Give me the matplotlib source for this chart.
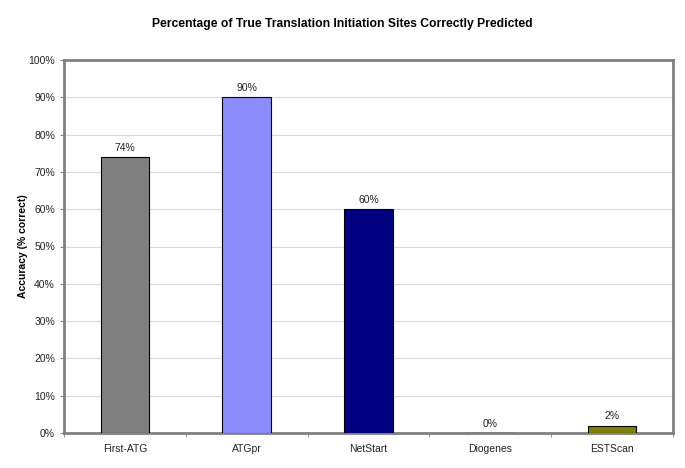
import matplotlib
matplotlib.use('Agg')
import matplotlib.pyplot as plt
from matplotlib.ticker import FuncFormatter, MultipleLocator, FixedLocator

plt.rcParams['font.family'] = ['Liberation Sans', 'DejaVu Sans']

methods = ['First-ATG', 'ATGpr', 'NetStart', 'Diogenes', 'ESTScan']
accuracy = [74, 90, 60, 0, 2]
colors = ['#808080', '#8c8cff', '#000080', '#ffffff', '#808000']

fig = plt.figure(figsize=(6.85, 4.68), dpi=100)
ax = fig.add_axes([64/685, 35/468, 609/685, 373/468])

x = range(len(methods))
ax.bar(x, accuracy, width=0.4, color=colors, edgecolor='black', linewidth=0.8, zorder=3)
for i, v in enumerate(accuracy):
    ax.text(i, v + 1.2, f'{v}%', ha='center', va='bottom', fontsize=7.5, color='#222222')

ax.set_xlim(-0.5, len(methods) - 0.5)
ax.set_ylim(0, 100)
ax.yaxis.set_major_locator(MultipleLocator(10))
ax.yaxis.set_major_formatter(FuncFormatter(lambda v, p: f'{v:.0f}%'))
ax.set_xticks(list(x))
ax.set_xticklabels(methods, fontsize=7.5, color='#222222')
ax.xaxis.set_minor_locator(FixedLocator([i + 0.5 for i in range(-1, len(methods))]))
ax.tick_params(axis='x', which='major', length=0, pad=8)
ax.tick_params(axis='x', which='minor', length=3, color='#808080')
ax.tick_params(axis='y', labelsize=7.5, length=3, color='#808080', labelcolor='#222222')
ax.grid(axis='y', color='#d9d9d9', linewidth=0.8, zorder=0)
for s in ax.spines.values():
    s.set_color('#808080')
    s.set_linewidth(2)

ax.set_ylabel('Accuracy (% correct)', fontsize=7.5, fontweight='bold', labelpad=0)
fig.text(0.5, 1 - 24/468, 'Percentage of True Translation Initiation Sites Correctly Predicted',
         ha='center', va='center', fontsize=8.7, fontweight='bold')

fig.savefig('out.png', dpi=100)
